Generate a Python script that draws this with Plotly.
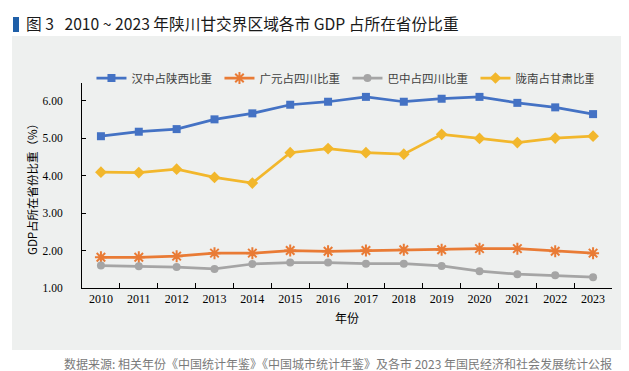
import plotly.graph_objects as go

years = [str(y) for y in range(2010, 2024)]
hanzhong = [5.05, 5.17, 5.24, 5.50, 5.66, 5.89, 5.97, 6.10, 5.97, 6.05, 6.10, 5.94, 5.82, 5.64]
guangyuan = [1.82, 1.82, 1.85, 1.93, 1.93, 2.00, 1.98, 2.00, 2.02, 2.02, 2.05, 2.05, 1.98, 1.93]
bazhong = [1.60, 1.58, 1.56, 1.51, 1.64, 1.68, 1.68, 1.65, 1.65, 1.59, 1.45, 1.37, 1.34, 1.29]
longnan = [4.09, 4.08, 4.17, 3.95, 3.80, 4.61, 4.72, 4.61, 4.57, 5.10, 4.99, 4.88, 5.00, 5.05]
names = ["汉中占陕西比重", "广元占四川比重", "巴中占四川比重", "陇南占甘肃比重"]
ytick_vals = [1, 2, 3, 4, 5, 6]

W, H = 629, 371
L, R, T, B = 74, 25, 75, 91
pw, ph = W - L - R, H - T - B

def px(x):
    return (x - L) / pw

def py(y):
    return (H - B - y) / ph

CJK = "Noto Sans CJK SC"
SERIF = "Liberation Serif, Times New Roman, DejaVu Serif, serif"

fig = go.Figure()
styles = [
    (hanzhong, "#4472C4", dict(symbol="square", size=8)),
    (guangyuan, "#E97B35", dict(symbol="asterisk-open", size=10, line=dict(width=2, color="#E97B35"))),
    (bazhong, "#A5A5A5", dict(symbol="circle", size=8)),
    (longnan, "#F2B72C", dict(symbol="diamond", size=9)),
]
for name, (vals, col, mk) in zip(names, styles):
    fig.add_trace(go.Scatter(
        x=years, y=vals, name=name, mode="lines+markers",
        line=dict(color=col, width=2.75),
        marker=dict(color=col, **mk),
    ))

fig.update_layout(
    width=W, height=H,
    margin=dict(l=L, r=R, t=T, b=B, autoexpand=False),
    paper_bgcolor="white",
    plot_bgcolor="rgba(0,0,0,0)",
    showlegend=True,
    legend=dict(
        orientation="h", x=-0.001, y=py(70),
        xanchor="left", yanchor="middle", indentation=10,
        font=dict(family=CJK, size=11.5, color="#404040"),
        entrywidth=73, entrywidthmode="pixels",
        bgcolor="rgba(0,0,0,0)",
    ),
    xaxis=dict(
        type="category", range=[-0.5, 13.5],
        showline=True, linecolor="black", linewidth=1,
        ticks="inside", tickson="boundaries", ticklen=5, tickcolor="black",
        tickfont=dict(family=SERIF, size=12, color="black"),
        tickangle=0,
        showgrid=False, zeroline=False,
    ),
    yaxis=dict(
        range=[1, 6.47], tickvals=ytick_vals, tickformat=".2f",
        showline=True, linecolor="black", linewidth=1,
        ticks="inside", ticklen=4, tickcolor="black",
        tickfont=dict(family=SERIF, size=11.5, color="black"),
        ticklabelstandoff=16,
        showgrid=False, zeroline=False,
    ),
    shapes=[
        dict(type="rect", xref="paper", yref="paper", layer="below",
             x0=px(4), x1=px(623), y0=py(342), y1=py(28),
             fillcolor="#EEF0EF", line=dict(width=0)),
        dict(type="rect", xref="paper", yref="paper",
             x0=px(5), x1=px(11), y0=py(24), y1=py(9),
             fillcolor="#1F5FA8", line=dict(width=0)),
    ],
    annotations=[
        dict(text="图 3\u00a0\u00a0 2010 ~ 2023 年陕川甘交界区域各市 GDP 占所在省份比重",
             xref="paper", yref="paper", x=px(16), y=py(16),
             xanchor="left", yanchor="middle", showarrow=False,
             font=dict(family=CJK, size=15.7, color="#1a1a1a")),
        dict(text="数据来源: 相关年份《中国统计年鉴》《中国城市统计年鉴》及各市 2023 年国民经济和社会发展统计公报",
             xref="paper", yref="paper", x=px(54), y=py(355),
             xanchor="left", yanchor="middle", showarrow=False,
             font=dict(family=CJK, size=12, color="#7a7a7a")),
        dict(text="年份", xref="paper", yref="paper", x=px(339), y=py(309),
             xanchor="center", yanchor="middle", showarrow=False,
             font=dict(family=CJK, size=12, color="black")),
        dict(text="GDP占所在省份比重（%）", xref="paper", yref="paper",
             x=px(24), y=py(178), textangle=-90,
             xanchor="center", yanchor="middle", showarrow=False,
             font=dict(family=CJK, size=11.5, color="black")),
    ],
)

fig.write_html("out.html")
